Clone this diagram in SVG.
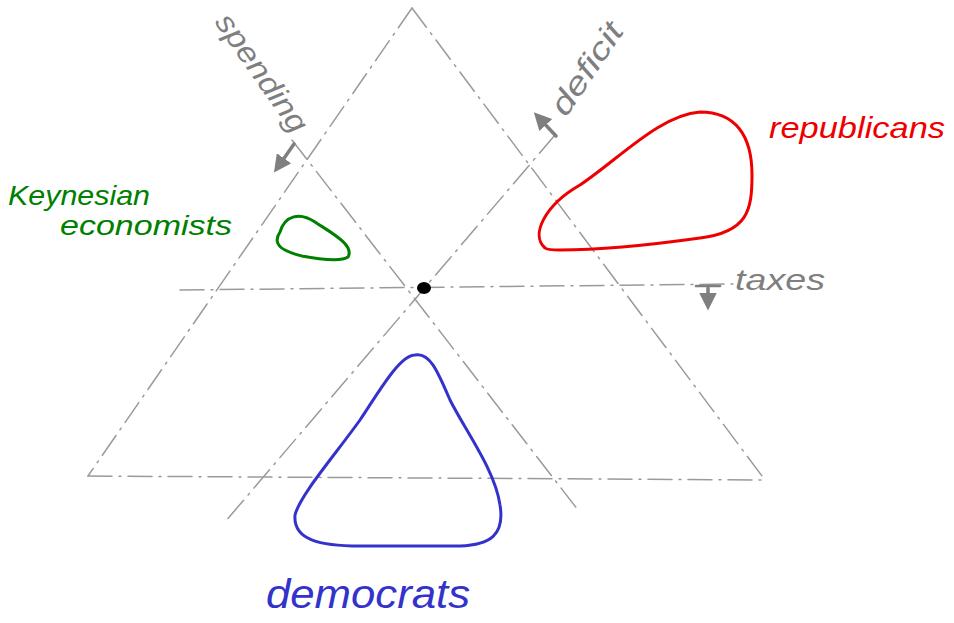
<svg xmlns="http://www.w3.org/2000/svg" width="954" height="623" viewBox="0 0 954 623">
<style>
.axis{fill:none;stroke:#9a9a9a;stroke-width:1.5;stroke-dasharray:24 7 2 7;stroke-linecap:round}
.lbl{font-family:"Liberation Sans","DejaVu Sans",sans-serif;font-style:italic}
.gray{fill:#7f7f7f}
.arr{stroke:#7f7f7f;stroke-width:3.5;fill:none;stroke-linecap:round}
.blob{fill:none;stroke-width:3;stroke-linejoin:round}
</style>
<defs>
<marker id="ah" viewBox="0 0 10 10" refX="4" refY="5" markerWidth="5" markerHeight="5" orient="auto-start-reverse">
<path d="M0 0 L10 5 L0 10 Z" fill="#7f7f7f"/>
</marker>
</defs>
<rect width="954" height="623" fill="#ffffff"/>
<g id="connectors">
<path class="axis" d="M412 8 L88 476"/>
<path class="axis" d="M412 8 L765 480"/>
<path class="axis" d="M88 476 L765 480"/>
<path class="axis" d="M180 290 L735 284"/>
<path class="axis" d="M555 135 L225 522"/>
<path class="axis" d="M292 140 L578 510"/>
<path class="arr" d="M294 144 L280 164" marker-end="url(#ah)"/>
<path class="arr" d="M556 136 L541 120" marker-end="url(#ah)"/>
<path class="arr" d="M708 288 L708 300" marker-end="url(#ah)"/>
<path class="arr" d="M696 286 L720 286" style="stroke-width:2.5"/>
</g>
<g id="center"><ellipse cx="424" cy="288" rx="7" ry="6" fill="#000000"/></g>
<g id="spending"><text class="lbl gray" font-size="30" textLength="138" lengthAdjust="spacingAndGlyphs" transform="translate(214,22) rotate(55)">spending</text></g>
<g id="deficit"><text class="lbl gray" font-size="31" textLength="105" lengthAdjust="spacingAndGlyphs" transform="translate(566,118) rotate(-56)">deficit</text></g>
<g id="taxes"><text class="lbl gray" font-size="30" x="735" y="290" textLength="90" lengthAdjust="spacingAndGlyphs">taxes</text></g>
<g id="republicans">
<path class="blob" stroke="#ee0000" d="M545 248 C530 235 545 205 580 185 C620 158 660 115 700 112 C735 112 752 135 752 175 C752 210 748 232 700 238 C650 245 600 250 560 250 C550 250 546 249 545 248 Z"/>
<text class="lbl" fill="#ee0000" font-size="29" x="769" y="138" textLength="176" lengthAdjust="spacingAndGlyphs">republicans</text>
</g>
<g id="keynesian">
<path class="blob" stroke="#008000" d="M280 232 C285 215 300 212 315 222 C330 232 355 245 348 257 C340 263 300 258 285 250 C275 245 276 238 280 232 Z"/>
<text class="lbl" fill="#008000" font-size="28" x="8" y="205" textLength="142" lengthAdjust="spacingAndGlyphs">Keynesian</text>
<text class="lbl" fill="#008000" font-size="28" x="60" y="235" textLength="172" lengthAdjust="spacingAndGlyphs">economists</text>
</g>
<g id="democrats">
<path class="blob" stroke="#3333cc" d="M415 355 C400 355 380 390 360 420 C335 455 300 495 295 515 C293 540 320 546 360 546 L460 546 C490 545 505 535 500 505 C495 470 465 430 450 400 C438 372 430 352 415 355 Z"/>
<text class="lbl" fill="#3333cc" font-size="40" x="266" y="608" textLength="204" lengthAdjust="spacingAndGlyphs">democrats</text>
</g>
</svg>
